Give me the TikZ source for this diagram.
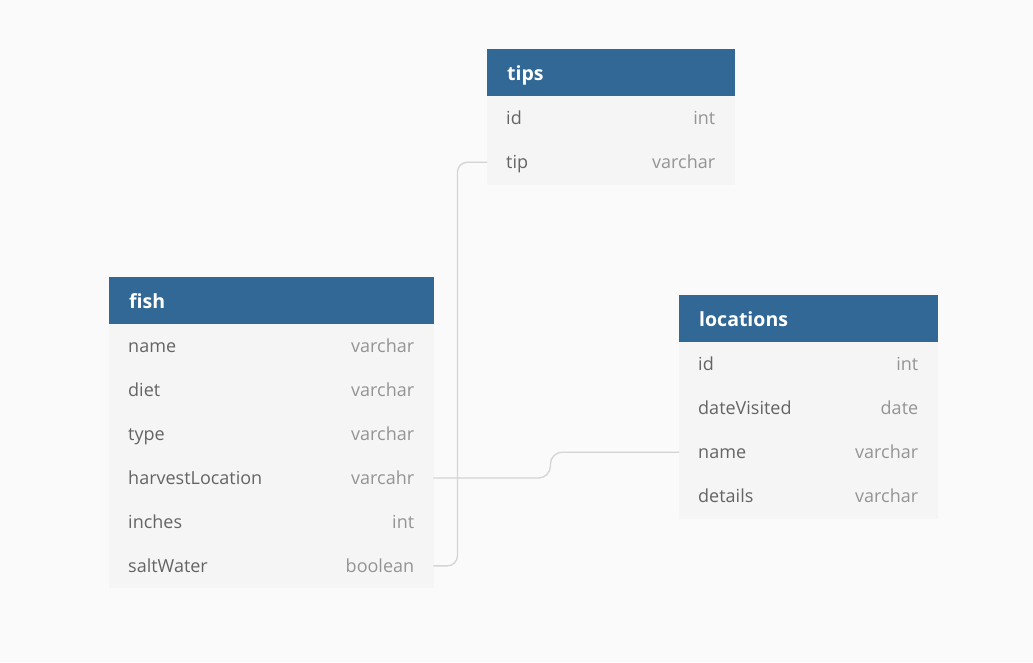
\documentclass[tikz,border=0pt]{standalone}
\usepackage{fontspec}
\setmainfont{Open Sans}
\usetikzlibrary{positioning}
\definecolor{hdrblue}{RGB}{49,104,150}
\definecolor{rowgray}{RGB}{245,245,245}
\definecolor{pagebg}{RGB}{250,250,250}
\definecolor{fldtext}{RGB}{100,100,100}
\definecolor{typetext}{RGB}{148,148,148}
\definecolor{linkgray}{RGB}{212,212,212}

\begin{document}
\begin{tikzpicture}[x=1pt, y=-1pt,
  hdr/.style={rectangle, fill=hdrblue, draw=hdrblue, line width=0.4pt, text=white, font=\fontsize{19.5}{22}\selectfont\bfseries, minimum height=47pt, text height=18pt, text depth=2pt, inner xsep=20pt, inner ysep=0pt, anchor=north west, align=left, text width=#1},
  row/.style={rectangle, fill=rowgray, draw=rowgray, line width=0.4pt, text=fldtext, font=\fontsize{18}{21}\selectfont, minimum height=43.5pt, text height=15pt, text depth=2pt, inner xsep=19pt, inner ysep=0pt, text width=#1},
  link/.style={draw=linkgray, line width=1.3pt, rounded corners=10pt},
]
  % page
  \fill[pagebg] (0,0) rectangle (1033,662);

  % tips
  \node[hdr=207pt] (tips) at (487,49) {tips};
  \node[row=209pt, below=0pt of tips] (tips-id) {id\hfill\textcolor{typetext}{int}};
  \node[row=209pt, below=0pt of tips-id] (tips-tip) {tip\hfill\textcolor{typetext}{varchar}};

  % fish
  \node[hdr=284pt] (fish) at (109,277) {fish};
  \node[row=286pt, below=0pt of fish] (fish-name) {name\hfill\textcolor{typetext}{varchar}};
  \node[row=286pt, below=0pt of fish-name] (fish-diet) {diet\hfill\textcolor{typetext}{varchar}};
  \node[row=286pt, below=0pt of fish-diet] (fish-type) {type\hfill\textcolor{typetext}{varchar}};
  \node[row=286pt, below=0pt of fish-type] (fish-harvestLocation) {harvestLocation\hfill\textcolor{typetext}{varcahr}};
  \node[row=286pt, below=0pt of fish-harvestLocation] (fish-inches) {inches\hfill\textcolor{typetext}{int}};
  \node[row=286pt, below=0pt of fish-inches] (fish-saltWater) {saltWater\hfill\textcolor{typetext}{boolean}};

  % locations
  \node[hdr=218pt] (locations) at (679,295) {locations};
  \node[row=220pt, below=0pt of locations] (locations-id) {id\hfill\textcolor{typetext}{int}};
  \node[row=220pt, below=0pt of locations-id] (locations-dateVisited) {dateVisited\hfill\textcolor{typetext}{date}};
  \node[row=220pt, below=0pt of locations-dateVisited] (locations-name) {name\hfill\textcolor{typetext}{varchar}};
  \node[row=220pt, below=0pt of locations-name] (locations-details) {details\hfill\textcolor{typetext}{varchar}};

  % relations
  \draw[link] (fish-saltWater.east) -- ++(24,0) |- (tips-tip.west);
  \draw[link, rounded corners=12pt] (fish-harvestLocation.east) -- ++(117,0) |- (locations-name.west);
\end{tikzpicture}
\end{document}
